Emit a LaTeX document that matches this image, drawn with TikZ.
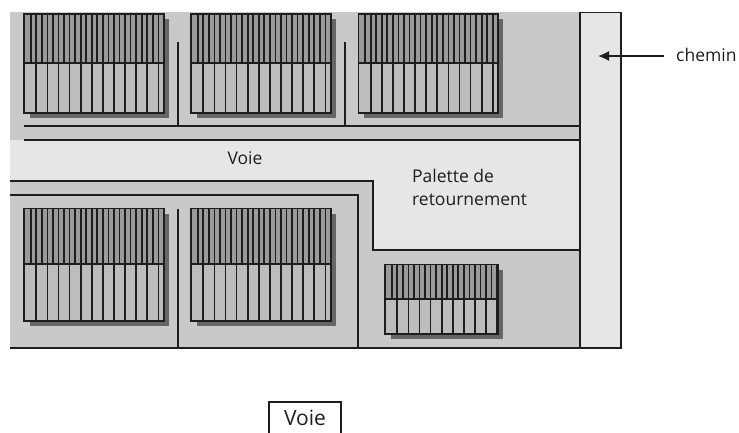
\documentclass[tikz,border=0pt]{standalone}
\usepackage{fontspec}
\setmainfont{Open Sans}
\usetikzlibrary{arrows.meta}
\definecolor{sitegray}{HTML}{C9C9C9}
\definecolor{roadgray}{HTML}{E6E6E6}
\definecolor{stripgray}{HTML}{9A9A9A}
\definecolor{cellgray}{HTML}{BDBDBD}
\definecolor{shadowgray}{HTML}{666666}
\definecolor{inkgray}{HTML}{1E1E1E}
\tikzset{
  wall/.style={draw=inkgray,line width=1.8pt},
  label/.style={font=\fontsize{17.5}{23}\selectfont,text=inkgray,inner sep=0pt},
  bar/.style={draw=inkgray,line width=1.7pt},
}
% one parking block: left, right, top, middle, bottom
\newcommand{\parkblock}[5]{
  \fill[shadowgray] (#1+6,#3+5) rectangle (#2+5,#5+5);
  \fill[stripgray] (#1,#3) rectangle (#2,#4);
  \fill[cellgray] (#1,#4) rectangle (#2,#5);
  \foreach \i in {0,...,24} {
    \pgfmathsetmacro{\xs}{#1+6.7+5.55*\i}
    \pgfmathparse{\xs<#2-1 ? 1 : 0}
    \ifnum\pgfmathresult=1 \draw[bar] (\xs,#3) -- (\xs,#4); \fi
  }
  \foreach \i in {0,...,12} {
    \pgfmathsetmacro{\xs}{#1+12.3+11.1*\i}
    \pgfmathparse{\xs<#2-1 ? 1 : 0}
    \ifnum\pgfmathresult=1 \draw[bar] (\xs,#4) -- (\xs,#5); \fi
  }
  \draw[bar] (#1,#4) -- (#2,#4);
  \draw[bar] (#1,#3) rectangle (#2,#5);
}
\begin{document}
\begin{tikzpicture}[x=1pt,y=-1pt]
\useasboundingbox (0,0) rectangle (739,432);
% ground and road
\fill[sitegray] (10,12) rectangle (580,348);
\fill[roadgray] (10,140) -- (580,140) -- (580,250) -- (373,250) -- (373,181) -- (10,181) -- cycle;
% blocks
\foreach \xl/\xr in {24/164,191/331,358.4/498} {
  \parkblock{\xl}{\xr}{14}{63}{113}
}
\foreach \xl/\xr in {24/164,191/331} {
  \parkblock{\xl}{\xr}{208.5}{264}{321}
}
\parkblock{385}{498.3}{264.5}{299}{334.3}
% walls
\draw[wall] (24,126) -- (580,126);
\draw[wall] (24,140) -- (580,140);
\draw[wall] (10,181) -- (373,181) -- (373,250) -- (580,250);
\draw[wall] (10,195) -- (358,195) -- (358,348);
\draw[wall] (10,348) -- (580,348);
\draw[wall] (178,42) -- (178,126);
\draw[wall] (345,42) -- (345,126);
\draw[wall] (178,209) -- (178,348);
% path at the right
\draw[wall,fill=roadgray] (580,12.5) rectangle (621,348);
% labels
\node[label] (voieroad) at (245,158) {Voie};
\node[label,align=left,anchor=north west] (palette) at (412,169) {Palette de\\retournement};
\node[label,anchor=west] (chemin) at (676,55) {chemin};
\coordinate (cheminend) at (598,56);
\draw[-{Latex[length=11pt,width=10pt]},inkgray,line width=1.6pt] (664,56) -- (cheminend);
\node[draw=inkgray,line width=1.5pt,label,font=\fontsize{21}{24}\selectfont,minimum width=72pt,minimum height=32pt,anchor=north] (voiebox) at (305,401) {Voie};
\end{tikzpicture}
\end{document}
